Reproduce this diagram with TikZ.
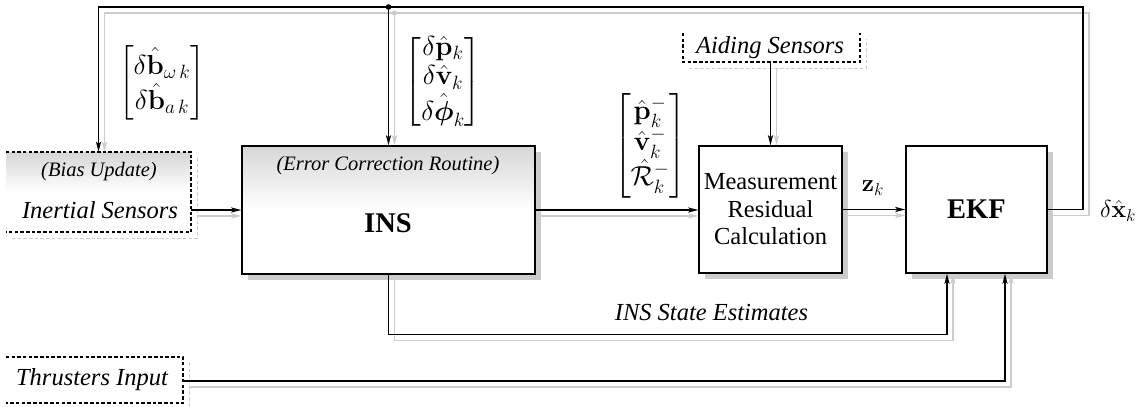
\RequirePackage{fix-cm}
\documentclass[tikz,border=0pt]{standalone}
\usepackage{amsmath}
\usepackage[no-math]{fontspec}
\setmainfont{Liberation Serif}
\usetikzlibrary{arrows.meta,calc,shadows}

\definecolor{shadowgray}{gray}{0.8}
\definecolor{fadegray}{gray}{0.84}

\tikzset{
  every node/.style={inner sep=0pt, font=\fontsize{24.5}{29.4}\selectfont},
  block/.style={draw, line width=1.3pt, fill=white,
    drop shadow={shadow xshift=5.5pt, shadow yshift=-5.5pt, fill=shadowgray, opacity=1}},
  % grey at the top edge, white from the middle down (middle colour set last)
  faded/.style={top color=fadegray, bottom color=white, middle color=white},
  sensorside/.style={draw=black, line width=1.6pt, dash pattern=on 3.5pt off 2.2pt},
  sensorshadow/.style={draw=shadowgray, line width=1.2pt, dash pattern=on 3.5pt off 2.2pt},
  bline/.style={draw=black, line width=1.5pt},
  gline/.style={draw=shadowgray, line width=1.5pt},
  btip/.style={-{Stealth[length=10pt,width=5pt,inset=2pt]}},
  gtip/.style={-{Stealth[length=10pt,width=5pt,inset=2pt,color=shadowgray]}},
  note/.style={font=\fontsize{20.5}{24}\selectfont\itshape},
  ilabel/.style={font=\fontsize{24.5}{29.4}\selectfont\itshape},
  blabel/.style={font=\fontsize{28.5}{32}\selectfont\bfseries},
  mlabel/.style={font=\fontsize{27.5}{29.4}\selectfont},
}

\begin{document}
\begin{tikzpicture}[x=1pt,y=-1pt]
  \fill[white] (0,0) rectangle (1144,407);
  \useasboundingbox (0,0) rectangle (1144,407);

  % ---- sensor sources (open dashed frames) ----
  \node[minimum width=185pt, minimum height=80pt, faded] (inertial) at (98.5,192) {};
  \node[minimum width=177pt, minimum height=29pt] (aiding) at (771.5,47.5) {};
  \node[minimum width=177pt, minimum height=46pt] (thrusters) at (94.5,380) {};

  \draw[sensorshadow] ($(inertial.north east)+(6,6)$) -- ($(inertial.south east)+(6,6)$) -- ($(inertial.south west)+(6,6)$);
  \draw[sensorshadow] ($(aiding.south west)+(6,6)$) -- ($(aiding.south east)+(6,6)$) -- ($(aiding.north east)+(6,6)$);
  \draw[sensorshadow] ($(thrusters.north east)+(6,6)$) -- ($(thrusters.south east)+(6,6)$) -- ($(thrusters.south west)+(6,6)$);

  \draw[sensorside] (inertial.north west) -- (inertial.north east) -- (inertial.south east) -- (inertial.south west);
  \draw[sensorside] (aiding.north west) -- (aiding.south west) -- (aiding.south east) -- (aiding.north east);
  \draw[sensorside] (thrusters.north west) -- (thrusters.north east) -- (thrusters.south east) -- (thrusters.south west);

  \node[note]   (biasnote)    at (99,172)  {(Bias Update)};
  \node[ilabel] (inertialtxt) at (100,210) {Inertial Sensors};
  \node[ilabel] (aidingtxt)   at (770,47.5) {Aiding Sensors};
  \node[ilabel] (thrusterstxt) at (92,380) {Thrusters Input};

  % ---- processing blocks ----
  \node[block, faded, minimum width=293pt, minimum height=128pt] (ins) at (388.5,210) {};
  \node[note]   (insnote) at (388,166) {(Error Correction Routine)};
  \node[blabel] (instxt)  at (388,223) {INS};

  \node[block, minimum width=143pt, minimum height=127pt, align=center,
        font=\fontsize{24.5}{27.5}\selectfont] (meas) at (770.5,209.5)
        {Measurement\\Residual\\Calculation};
  \node[block, blabel, minimum width=141pt, minimum height=127pt] (ekf) at (976.5,209.5) {EKF};

  % ---- connector helpers ----
  \coordinate (busR) at (1083,7);
  \coordinate (junc) at (ins.north |- busR);
  \coordinate (ekfinA) at ($(ekf.south)+(-29.5,0)$);
  \coordinate (ekfinB) at ($(ekf.south)+(28.5,0)$);

  % ---- grey companion lines ----
  \draw[gline, gtip] ($(ekf.east)+(0,6)$) -| ($(busR)+(6,6)$) -| ($(inertial.north)+(6,0)$);
  \draw[gline, gtip] ($(junc)+(6,6)$) -- ($(ins.north)+(6,0)$);
  \fill[shadowgray] ($(junc)+(6,6)$) circle (2.6);
  \draw[gline, gtip] ($(ins.west -| inertial.east)+(6,6)$) -- ($(ins.west)+(0,6)$);
  \draw[gline, gtip] ($(ins.east)+(0,6)$) -- ($(ins.east -| meas.west)+(0,6)$);
  \draw[gline, gtip] ($(meas.east)+(0,6)$) -- ($(meas.east -| ekf.west)+(0,6)$);
  \draw[gline, gtip] ($(meas.north |- aiding.south)+(6,6)$) -- ($(meas.north)+(6,0)$);
  \draw[gline, gtip] ($(ins.south)+(6,4)$) -- ++(0,62) -| ($(ekfinA)+(6,0)$);
  \draw[gline, gtip] ($(thrusters.east)+(6,7)$) -| ($(ekfinB)+(6,0)$);

  % ---- black signal lines ----
  \draw[bline, btip] (ekf.east) -| (busR) -| (inertial.north);
  \draw[bline, btip] (junc) -- (ins.north);
  \fill (junc) circle (2.8);
  \draw[bline, btip] (ins.west -| inertial.east) -- (ins.west);
  \draw[bline, btip] (ins.east) -- (ins.east -| meas.west);
  \draw[bline, btip] (meas.east) -- (meas.east -| ekf.west);
  \draw[bline, btip] (meas.north |- aiding.south) -- (meas.north);
  \draw[bline, btip] (ins.south) -- ++(0,60) -| (ekfinA);
  \draw[bline, btip] ($(thrusters.east)+(0,1)$) -| (ekfinB);

  % ---- signal labels ----
  \node[mlabel] (biasfb) at (162,83)
    {$\begin{bmatrix}\delta\hat{\mathbf{b}}_{\omega\,k}\\ \delta\hat{\mathbf{b}}_{a\,k}\end{bmatrix}$};
  \node[mlabel] (errfb) at (443,82)
    {$\begin{bmatrix}\delta\hat{\mathbf{p}}_k\\ \delta\hat{\mathbf{v}}_k\\ \delta\hat{\boldsymbol{\phi}}_k\end{bmatrix}$};
  \node[mlabel] (navout) at (650,146)
    {$\begin{bmatrix}\hat{\mathbf{p}}_k^-\\ \hat{\mathbf{v}}_k^-\\ \hat{\mathcal{R}}_k^-\end{bmatrix}$};
  \node (zk) at (873,188) {$\mathbf{z}_k$};
  \node (dxk) at (1118,211) {$\delta\hat{\mathbf{x}}_k$};
  \node[ilabel] (insest) at (711.5,313) {INS State Estimates};
\end{tikzpicture}
\end{document}
